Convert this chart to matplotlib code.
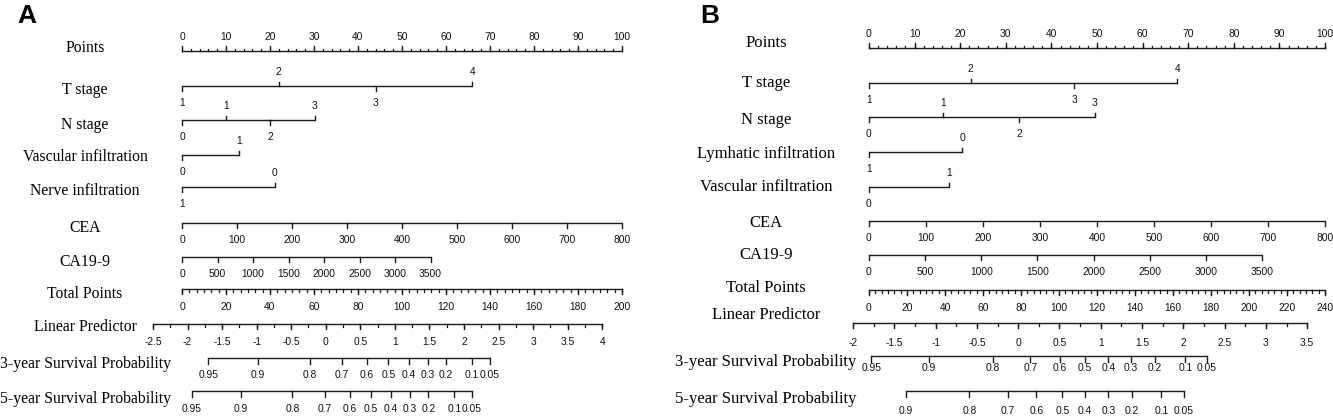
import matplotlib.pyplot as plt
import numpy as np

# ---- Panel A: values (tick value labels and their position on the 0-100 points scale)
a_points_max = 100
a_t_labels = ['1', '2', '3', '4']
a_t_points = [0, 22, 44, 66]
a_t_sides = [-1, 1, -1, 1]
a_n_labels = ['0', '1', '2', '3']
a_n_points = [0, 10, 20, 30.2]
a_n_sides = [-1, 1, -1, 1]
a_vasc_labels = ['0', '1']
a_vasc_points = [0, 12.9]
a_vasc_sides = [-1, 1]
a_nerve_labels = ['1', '0']
a_nerve_points = [0, 21.1]
a_nerve_sides = [-1, 1]
a_cea_values = [0, 100, 200, 300, 400, 500, 600, 700, 800]
a_cea_max_points = 100
a_ca199_values = [0, 500, 1000, 1500, 2000, 2500, 3000, 3500]
a_ca199_max_points = 56.5
a_total_values = [0, 20, 40, 60, 80, 100, 120, 140, 160, 180, 200]
a_lp_values = [-2.5, -2, -1.5, -1, -0.5, 0, 0.5, 1, 1.5, 2, 2.5, 3, 3.5, 4]
a_lp_range_points = [-6.6, 95.5]
a_surv3_labels = ['0.95', '0.9', '0.8', '0.7', '0.6', '0.5', '0.4', '0.3', '0.2', '0.1', '0.05']
a_surv3_points = [5.95, 17.3, 29.1, 36.4, 42.0, 46.9, 51.5, 55.8, 60.0, 65.8, 70.0]
a_surv5_labels = ['0.95', '0.9', '0.8', '0.7', '0.6', '0.5', '0.4', '0.3', '0.2', '0.1', '0.05']
a_surv5_points = [2.2, 13.3, 25.1, 32.4, 38.2, 43.0, 47.5, 51.8, 56.0, 61.9, 65.8]

# ---- Panel B
b_t_labels = ['1', '2', '3', '4']
b_t_points = [0, 22.3, 45.0, 67.6]
b_t_sides = [-1, 1, -1, 1]
b_n_labels = ['0', '1', '2', '3']
b_n_points = [0, 16.2, 33.0, 49.5]
b_n_sides = [-1, 1, -1, 1]
b_lymph_labels = ['1', '0']
b_lymph_points = [0, 20.4]
b_lymph_sides = [-1, 1]
b_vasc_labels = ['0', '1']
b_vasc_points = [0, 17.6]
b_vasc_sides = [-1, 1]
b_cea_values = [0, 100, 200, 300, 400, 500, 600, 700, 800]
b_cea_max_points = 100
b_ca199_values = [0, 500, 1000, 1500, 2000, 2500, 3000, 3500]
b_ca199_max_points = 86.2
b_total_values = [0, 20, 40, 60, 80, 100, 120, 140, 160, 180, 200, 220, 240]
b_lp_values = [-2, -1.5, -1, -0.5, 0, 0.5, 1, 1.5, 2, 2.5, 3, 3.5]
b_lp_range_points = [-3.5, 96.1]
b_surv3_labels = ['0.95', '0.9', '0.8', '0.7', '0.6', '0.5', '0.4', '0.3', '0.2', '0.1', '0.05']
b_surv3_points = [0.5, 13.2, 27.1, 35.4, 41.8, 47.4, 52.5, 57.4, 62.7, 69.4, 74.1]
b_surv5_labels = ['0.9', '0.8', '0.7', '0.6', '0.5', '0.4', '0.3', '0.2', '0.1', '0.05']
b_surv5_points = [8.1, 22.0, 30.4, 36.7, 42.4, 47.4, 52.5, 57.6, 64.1, 69.0]

LINE = '#1a1a1a'
SERIF = 'Liberation Serif'
SANS = 'Liberation Sans'
TICK_FS = 7.4
UP_OFF = -14
DOWN_OFF = 17


def tick_label(ax, x, y, txt, side, off=None):
    if off is None:
        off = UP_OFF if side > 0 else DOWN_OFF
    ax.text(x, y + off, txt, ha='center', va='center', fontsize=TICK_FS,
            family=SANS, color='#111')


def escala_categorica(ax, y, pts, labels, sides):
    ax.plot([min(pts), max(pts)], [y, y], color=LINE, lw=1.0, solid_capstyle='butt')
    for p, lab, s in zip(pts, labels, sides):
        ax.plot([p, p], [y, y - 4.5 * s], color=LINE, lw=1.0)
        tick_label(ax, p, y, lab, s)


def escala_continua(ax, y, pts, labels, side=-1, minor=None, mlen=2.5, tlen=5, off=None):
    ax.plot([min(pts), max(pts)], [y, y], color=LINE, lw=1.0, solid_capstyle='butt')
    if minor is not None:
        for p in minor:
            ax.plot([p, p], [y, y - mlen * side], color=LINE, lw=0.9)
    for p, lab in zip(pts, labels):
        ax.plot([p, p], [y, y - tlen * side], color=LINE, lw=1.0)
        tick_label(ax, p, y, lab, side, off)


def fmt(v):
    return ('%g' % v)


def panel(ax, letra, filas, cfg):
    # filas: list of (nombre, y_linea, y_texto)
    x_txt = cfg['x_txt']
    for nombre, yl, yt in filas:
        ax.text(x_txt, yt, nombre, ha='center', va='center', fontsize=cfg['fs'],
                family=SERIF, color='black')
    ax.text(cfg['x_letra'], 16, letra, ha='left', va='center', fontsize=19,
            fontweight='bold', family=SANS)


fig = plt.figure(figsize=(13.33, 4.16), dpi=100)

# ---------------- Panel A ----------------
axA = fig.add_axes([0, 0, 0.5, 1])
axA.set_xlim((0 - 182) / 4.4, (666.5 - 182) / 4.4)
axA.set_ylim(416, 0)
axA.axis('off')

rowsA = [('Points', 51, 48), ('T stage', 86, 90), ('N stage', 120, 125),
         ('Vascular infiltration', 155, 157), ('Nerve infiltration', 187, 191),
         ('CEA', 223, 228), ('CA19-9', 257, 262), ('Total Points', 289, 294),
         ('Linear Predictor', 324, 327), ('3-year Survival Probability', 358, 364),
         ('5-year Survival Probability', 391, 399)]
panel(axA, 'A', rowsA, {'x_txt': (85 - 182) / 4.4, 'fs': 11.3, 'x_letra': (17 - 182) / 4.4})
yA = {r[0]: r[1] for r in rowsA}

pts_major = np.arange(0, a_points_max + 1, 10)
pts_minor = np.arange(0, a_points_max + 1, 2)
escala_continua(axA, yA['Points'], pts_major, [fmt(v) for v in pts_major], side=1, minor=pts_minor)
escala_categorica(axA, yA['T stage'], a_t_points, a_t_labels, a_t_sides)
escala_categorica(axA, yA['N stage'], a_n_points, a_n_labels, a_n_sides)
escala_categorica(axA, yA['Vascular infiltration'], a_vasc_points, a_vasc_labels, a_vasc_sides)
escala_categorica(axA, yA['Nerve infiltration'], a_nerve_points, a_nerve_labels, a_nerve_sides)

cea = np.array(a_cea_values) / max(a_cea_values) * a_cea_max_points
escala_continua(axA, yA['CEA'], cea, [fmt(v) for v in a_cea_values])
ca = np.array(a_ca199_values) / max(a_ca199_values) * a_ca199_max_points
escala_continua(axA, yA['CA19-9'], ca, [fmt(v) for v in a_ca199_values])

tot = np.array(a_total_values) / max(a_total_values) * 100
tot_minor = np.linspace(0, 100, len(a_total_values) * 6 - 5)
escala_continua(axA, yA['Total Points'], tot, [fmt(v) for v in a_total_values], minor=tot_minor, off=18)

lp = np.array(a_lp_values)
lp_pts = np.interp(lp, [lp.min(), lp.max()], a_lp_range_points)
lp_minor = np.interp(np.arange(lp.min(), lp.max() + 0.01, 0.25), [lp.min(), lp.max()], a_lp_range_points)
escala_continua(axA, yA['Linear Predictor'], lp_pts, [fmt(v) for v in a_lp_values], minor=lp_minor, mlen=3, off=18)

escala_continua(axA, yA['3-year Survival Probability'], a_surv3_points, a_surv3_labels, tlen=5.5)
escala_continua(axA, yA['5-year Survival Probability'], a_surv5_points, a_surv5_labels, tlen=5.5, off=18)

# ---------------- Panel B ----------------
axB = fig.add_axes([0.5, 0, 0.5, 1])
axB.set_xlim((666.5 - 869) / 4.56, (1333 - 869) / 4.56)
axB.set_ylim(416, 0)
axB.axis('off')

rowsB = [('Points', 48, 43), ('T stage', 83, 83), ('N stage', 117, 120),
         ('Lymhatic infiltration', 152, 154), ('Vascular infiltration', 187, 187),
         ('CEA', 221, 223), ('CA19-9', 255, 255), ('Total Points', 290, 288),
         ('Linear Predictor', 323, 315), ('3-year Survival Probability', 356, 362),
         ('5-year Survival Probability', 391, 399)]
panel(axB, 'B', rowsB, {'x_txt': (766 - 869) / 4.56, 'fs': 12, 'x_letra': (700 - 869) / 4.56})
yB = {r[0]: r[1] for r in rowsB}

escala_continua(axB, yB['Points'], pts_major, [fmt(v) for v in pts_major], side=1, minor=pts_minor)
escala_categorica(axB, yB['T stage'], b_t_points, b_t_labels, b_t_sides)
escala_categorica(axB, yB['N stage'], b_n_points, b_n_labels, b_n_sides)
escala_categorica(axB, yB['Lymhatic infiltration'], b_lymph_points, b_lymph_labels, b_lymph_sides)
escala_categorica(axB, yB['Vascular infiltration'], b_vasc_points, b_vasc_labels, b_vasc_sides)

cea = np.array(b_cea_values) / max(b_cea_values) * b_cea_max_points
escala_continua(axB, yB['CEA'], cea, [fmt(v) for v in b_cea_values])
ca = np.array(b_ca199_values) / max(b_ca199_values) * b_ca199_max_points
escala_continua(axB, yB['CA19-9'], ca, [fmt(v) for v in b_ca199_values])

tot = np.array(b_total_values) / max(b_total_values) * 100
tot_minor = np.linspace(0, 100, len(b_total_values) * 6 - 5)
escala_continua(axB, yB['Total Points'], tot, [fmt(v) for v in b_total_values], minor=tot_minor, off=18)

lp = np.array(b_lp_values)
lp_pts = np.interp(lp, [lp.min(), lp.max()], b_lp_range_points)
lp_minor = np.interp(np.arange(lp.min(), lp.max() + 0.01, 0.25), [lp.min(), lp.max()], b_lp_range_points)
escala_continua(axB, yB['Linear Predictor'], lp_pts, [fmt(v) for v in b_lp_values], minor=lp_minor, mlen=3, off=20)

escala_continua(axB, yB['3-year Survival Probability'], b_surv3_points, b_surv3_labels, tlen=5.5, off=12)
escala_continua(axB, yB['5-year Survival Probability'], b_surv5_points, b_surv5_labels, tlen=5.5, off=20)

fig.savefig('out.png', dpi=100)
